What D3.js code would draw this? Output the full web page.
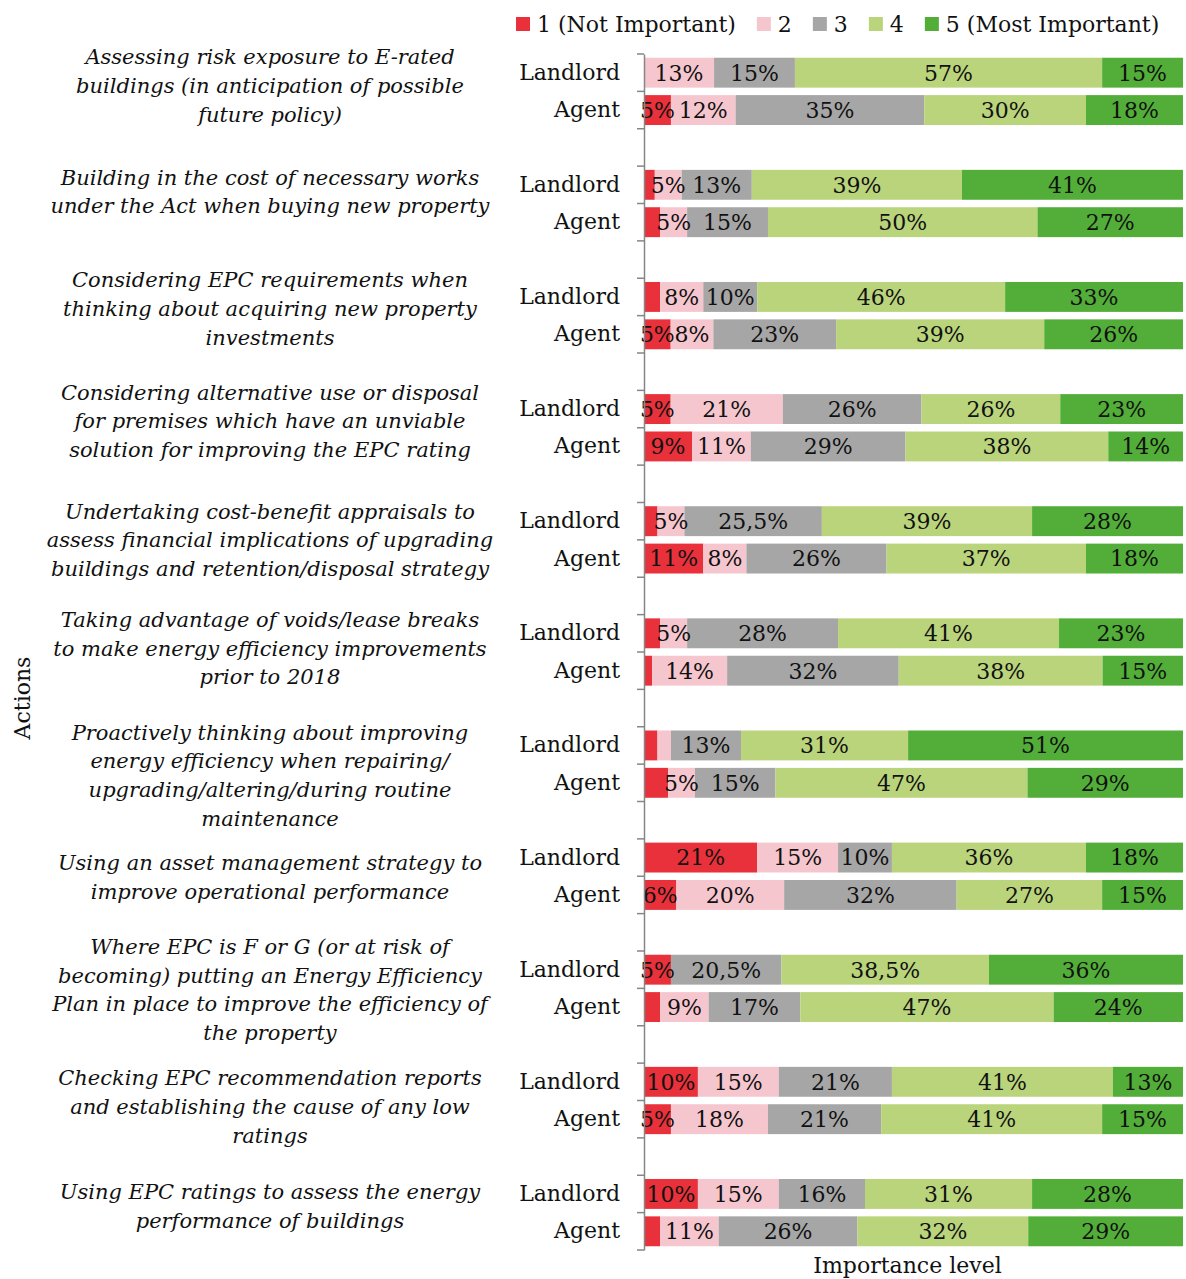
<!DOCTYPE html>
<html>
<head>
<meta charset="utf-8">
<script src="https://cdn.jsdelivr.net/npm/d3@7"></script>
<style>
  body { margin: 0; background: #fff; }
  svg { font-family: "DejaVu Serif", serif; }
</style>
</head>
<body>
<svg id="viz" width="1186" height="1279"></svg>
<script>
/* Data */

const levels = ['1 (Not Important)', '2', '3', '4', '5 (Most Important)'];
const respondents = ['Landlord', 'Agent'];

const actions = [
  ['Assessing risk exposure to E-rated', 'buildings (in anticipation of possible', 'future policy)'],
  ['Building in the cost of necessary works', 'under the Act when buying new property'],
  ['Considering EPC requirements when', 'thinking about acquiring new property', 'investments'],
  ['Considering alternative use or disposal', 'for premises which have an unviable', 'solution for improving the EPC rating'],
  ['Undertaking cost-benefit appraisals to', 'assess financial implications of upgrading', 'buildings and retention/disposal strategy'],
  ['Taking advantage of voids/lease breaks', 'to make energy efficiency improvements', 'prior to 2018'],
  ['Proactively thinking about improving', 'energy efficiency when repairing/', 'upgrading/altering/during routine', 'maintenance'],
  ['Using an asset management strategy to', 'improve operational performance'],
  ['Where EPC is F or G (or at risk of', 'becoming) putting an Energy Efficiency', 'Plan in place to improve the efficiency of', 'the property'],
  ['Checking EPC recommendation reports', 'and establishing the cause of any low', 'ratings'],
  ['Using EPC ratings to assess the energy', 'performance of buildings'],
];

// shares per importance level 1..5
const landlordValues = [
  [0, 13, 15, 57, 15],
  [2, 5, 13, 39, 41],
  [3, 8, 10, 46, 33],
  [5, 21, 26, 26, 23],
  [2.5, 5, 25.5, 39, 28],
  [3, 5, 28, 41, 23],
  [2.5, 2.5, 13, 31, 51],
  [21, 15, 10, 36, 18],
  [5, 0, 20.5, 38.5, 36],
  [10, 15, 21, 41, 13],
  [10, 15, 16, 31, 28],
];

const agentValues = [
  [5, 12, 35, 30, 18],
  [3, 5, 15, 50, 27],
  [5, 8, 23, 39, 26],
  [9, 11, 29, 38, 14],
  [11, 8, 26, 37, 18],
  [1.5, 14, 32, 38, 15],
  [4.5, 5, 15, 47, 29],
  [6, 20, 32, 27, 15],
  [3, 9, 17, 47, 24],
  [5, 18, 21, 41, 15],
  [3, 11, 26, 32, 29],
];

/* Layout */

const colors = ['#e8313a', '#f6c6ce', '#a6a6a6', '#bad47c', '#52ae38'];
const labelNudge = [-6, -12, -7, -7, 0, -4, 11, 1, 1, 6, -7];
const lineHeight = 28.7;

const svg = d3.select('#viz');

// rows: landlord, agent, then an empty slot between groups
const rows = [];
const keys = [];
actions.forEach((a, g) => {
  respondents.forEach((r, i) => {
    const vals = i === 0 ? landlordValues[g] : agentValues[g];
    const row = { key: g + '|' + r };
    vals.forEach((v, j) => (row[j] = v));
    rows.push(row);
    keys.push(row.key);
  });
  if (g < actions.length - 1) keys.push(g + '|gap');
});

const y = d3.scaleBand().domain(keys).range([54, 1250]).paddingInner(0.2).paddingOuter(0.1);
const x = d3.scaleLinear().domain([0, 1]).range([644, 1183]);

const series = d3.stack().keys(d3.range(levels.length)).offset(d3.stackOffsetExpand)(rows);

// bars
const bars = svg.append('g');
bars
  .selectAll('g')
  .data(series)
  .join('g')
  .attr('fill', (d) => colors[d.key])
  .selectAll('rect')
  .data((d) => d)
  .join('rect')
  .attr('x', (d) => x(d[0]))
  .attr('y', (d) => y(d.data.key))
  .attr('width', (d) => x(d[1]) - x(d[0]))
  .attr('height', y.bandwidth());

// value labels
const fmt = (v) => String(v).replace('.', ',') + '%';
const labels = svg.append('g').attr('font-size', 22).attr('text-anchor', 'middle').attr('fill', '#111');
series.forEach((s) => {
  labels
    .append('g')
    .selectAll('text')
    .data(s.filter((d) => d.data[s.key] >= 5))
    .join('text')
    .attr('x', (d) => (x(d[0]) + x(d[1])) / 2)
    .attr('y', (d) => y(d.data.key) + y.bandwidth() / 2)
    .attr('dy', '0.36em')
    .text((d) => fmt(d.data[s.key]));
});

// y axis
const yAxis = svg
  .append('g')
  .attr('transform', 'translate(644,0)')
  .call(
    d3
      .axisLeft(y)
      .tickSize(0)
      .tickSizeOuter(0)
      .tickPadding(24)
      .tickFormat((k) => (k.endsWith('gap') ? '' : k.split('|')[1]))
  );
yAxis.selectAll('text').attr('font-size', 22).attr('font-family', 'DejaVu Serif').attr('fill', '#111');
yAxis.select('.domain').attr('stroke', '#868686').attr('stroke-width', 1.5);

svg
  .append('g')
  .selectAll('line')
  .data(d3.range(keys.length + 1))
  .join('line')
  .attr('x1', 637)
  .attr('x2', 644)
  .attr('y1', (i) => y.range()[0] + i * y.step())
  .attr('y2', (i) => y.range()[0] + i * y.step())
  .attr('stroke', '#868686')
  .attr('stroke-width', 1.5);

// category labels
const cats = svg.append('g').attr('font-size', 21).attr('font-style', 'italic').attr('text-anchor', 'middle').attr('fill', '#111');
actions.forEach((lines, g) => {
  const yl = y(g + '|Landlord');
  const ya = y(g + '|Agent');
  const center = (yl + ya + y.bandwidth()) / 2 + labelNudge[g];
  cats
    .append('text')
    .selectAll('tspan')
    .data(lines)
    .join('tspan')
    .attr('x', 270)
    .attr('y', (d, i) => center + (i - (lines.length - 1) / 2) * lineHeight)
    .attr('dy', '0.36em')
    .text((d) => d);
});

// axis titles
svg
  .append('text')
  .attr('x', (x.range()[0] + x.range()[1]) / 2 - 6)
  .attr('y', 1273)
  .attr('text-anchor', 'middle')
  .attr('font-size', 22)
  .attr('fill', '#111')
  .text('Importance level');

svg
  .append('text')
  .attr('transform', 'translate(30,698) rotate(-90)')
  .attr('text-anchor', 'middle')
  .attr('font-size', 22)
  .attr('fill', '#111')
  .text('Actions');

// legend
const legend = svg.append('g').attr('font-size', 22).attr('fill', '#111');
let lx = 516;
levels.forEach((name, i) => {
  legend.append('rect').attr('x', lx).attr('y', 17).attr('width', 14).attr('height', 14).attr('fill', colors[i]);
  const t = legend
    .append('text')
    .attr('x', lx + 21)
    .attr('y', 24)
    .attr('dy', '0.36em')
    .text(name);
  lx += 21 + t.node().getComputedTextLength() + 21;
});
</script>
</body>
</html>
